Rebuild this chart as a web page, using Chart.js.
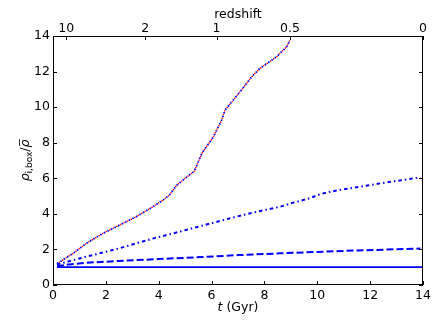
<!DOCTYPE html>
<html>
<head>
<meta charset="utf-8">
<script src="https://cdn.jsdelivr.net/npm/chart.js@4"></script>
<style>
body{margin:0;background:#fff;}
canvas{display:block;}
</style>
</head>
<body>
<canvas id="grafico" width="436" height="329"></canvas>
<script>

// t (Gyr) y densidad relativa de cada curva
const tSolida=[0.15,14];
const vSolida=[1.0,1.0];

const tGuiones=[0.15,0.6,1.26,2.5,4.0,5.6,7.0,8.6,10.0,11.5,13.9];
const vGuiones=[1.05,1.15,1.25,1.35,1.46,1.57,1.68,1.78,1.86,1.94,2.05];

const tPuntoRaya=[0.15,1.2,2.5,3.8,4.8,5.5,6.7,7.5,8.6,9.0,9.7,10.1,10.5,11.5,12.4,13.9];
const vPuntoRaya=[1.15,1.57,2.06,2.62,3.0,3.28,3.75,4.05,4.4,4.59,4.87,5.1,5.25,5.5,5.72,6.05];

const tPuntos=[0.15,0.76,1.26,1.89,2.52,3.15,3.78,4.17,4.4,4.68,5.0,5.35,5.63,6.07,6.38,6.51,6.82,7.08,7.52,7.83,8.46,8.84,8.97];
const vPuntos=[1.2,1.78,2.34,2.9,3.37,3.84,4.4,4.78,5.05,5.6,6.0,6.4,7.4,8.34,9.27,9.84,10.4,10.87,11.71,12.18,12.83,13.4,13.77];

// eje superior: redshift
const zEtiquetas=["10","2","1","0.5","0"];
const zTiempos=[0.5,3.49,6.19,8.97,14];

const xTicks=[0,2,4,6,8,10,12,14];
const yTicks=[0,2,4,6,8,10,12,14];

const fuente="DejaVu Sans";
const azul="#0000ff";
const rojo="#ff0000";

function puntos(t,v){
    return t.map((x,i)=>({x:x,y:v[i]}));
}

const marco={
    id:"marco",
    afterDraw(chart){
        const c=chart.ctx;
        const a=chart.chartArea;
        const sx=chart.scales.x;
        const sy=chart.scales.y;
        c.save();
        c.strokeStyle="#000";
        c.lineWidth=1;
        c.strokeRect(a.left+0.5,a.top+0.5,a.right-a.left-1,a.bottom-a.top-1);

        // ticks hacia dentro
        c.beginPath();
        xTicks.forEach(v=>{
            const px=Math.round(sx.getPixelForValue(v))+0.5;
            c.moveTo(px,a.bottom);
            c.lineTo(px,a.bottom-4);
        });
        zTiempos.forEach(v=>{
            const px=Math.round(chart.scales.x2.getPixelForValue(v))+0.5;
            c.moveTo(px,a.top);
            c.lineTo(px,a.top+4);
        });
        yTicks.forEach(v=>{
            const py=Math.round(sy.getPixelForValue(v))+0.5;
            c.moveTo(a.left,py);
            c.lineTo(a.left+4,py);
            c.moveTo(a.right,py);
            c.lineTo(a.right-4,py);
        });
        c.stroke();

        c.fillStyle="#000";
        c.textBaseline="middle";

        // titulo superior
        c.textAlign="center";
        c.font="12.5px '"+fuente+"'";
        const cx=(a.left+a.right)/2;
        c.fillText("redshift",cx,15);

        // titulo eje x
        c.textAlign="left";
        const parte1="t";
        const parte2=" (Gyr)";
        c.font="italic 12.5px '"+fuente+"'";
        const w1=c.measureText(parte1).width;
        c.font="12.5px '"+fuente+"'";
        const w2=c.measureText(parte2).width;
        let x0=cx-(w1+w2)/2;
        c.font="italic 12.5px '"+fuente+"'";
        c.fillText(parte1,x0,308);
        c.font="12.5px '"+fuente+"'";
        c.fillText(parte2,x0+w1,308);

        // titulo eje y
        c.translate(25,(a.top+a.bottom)/2);
        c.rotate(-Math.PI/2);
        c.textBaseline="alphabetic";
        c.font="italic 12.5px '"+fuente+"'";
        const rho=c.measureText("ρ").width;
        c.font="9px '"+fuente+"'";
        const sub=c.measureText("i,box").width;
        c.font="12.5px '"+fuente+"'";
        const bar=c.measureText("/").width;
        const total=rho+sub+bar+rho;
        let px=-total/2;
        const base=4;
        c.font="italic 12.5px '"+fuente+"'";
        c.fillText("ρ",px,base);
        px+=rho;
        c.font="9px '"+fuente+"'";
        c.fillText("i,box",px,base+3);
        px+=sub;
        c.font="12.5px '"+fuente+"'";
        c.fillText("/",px,base);
        px+=bar;
        c.font="italic 12.5px '"+fuente+"'";
        c.fillText("ρ",px,base);
        c.beginPath();
        c.lineWidth=0.8;
        c.moveTo(px+1.5,base-9.5);
        c.lineTo(px+rho+0.5,base-9.5);
        c.stroke();
        c.restore();
    }
};

const ctx=document.getElementById("grafico");

new Chart(ctx,{

    type:"line",

    data:{

        datasets:[

            {
                data:puntos(tSolida,vSolida),
                borderColor:azul,
                borderWidth:1.8,
                order:0
            },
            {
                data:puntos(tGuiones,vGuiones),
                borderColor:azul,
                borderWidth:2,
                borderDash:[7,3],
                order:0
            },
            {
                data:puntos(tPuntoRaya,vPuntoRaya),
                borderColor:azul,
                borderWidth:2,
                borderDash:[3.5,3,1.5,3],
                order:0
            },
            {
                data:puntos(tPuntos,vPuntos),
                borderColor:azul,
                borderWidth:1.8,
                borderDash:[1.5,2.5],
                order:0
            },
            {
                data:puntos(tPuntos,vPuntos),
                borderColor:rojo,
                borderWidth:1.3,
                borderDash:[1.5,2.5],
                borderDashOffset:2,
                order:1
            }

        ]

    },

    options:{

        responsive:false,
        animation:false,
        events:[],
        layout:{padding:{left:0,right:13,top:0,bottom:0}},
        elements:{
            point:{radius:0},
            line:{tension:0,fill:false}
        },
        plugins:{
            legend:{display:false},
            tooltip:{enabled:false}
        },

        scales:{

            x:{
                type:"linear",
                position:"bottom",
                min:0,
                max:14,
                afterBuildTicks:s=>{s.ticks=xTicks.map(v=>({value:v}));},
                afterFit:s=>{s.height=44;},
                grid:{display:false,drawTicks:false},
                border:{display:false},
                ticks:{
                    color:"#000",
                    padding:3,
                    maxRotation:0,
                    autoSkip:false,
                    font:{family:fuente,size:12.5}
                }
            },

            x2:{
                type:"linear",
                position:"top",
                min:0,
                max:14,
                afterBuildTicks:s=>{s.ticks=zTiempos.map(v=>({value:v}));},
                afterFit:s=>{s.height=36;},
                grid:{display:false,drawTicks:false},
                border:{display:false},
                ticks:{
                    color:"#000",
                    padding:0,
                    maxRotation:0,
                    autoSkip:false,
                    font:{family:fuente,size:12.5},
                    callback:(v,i)=>zEtiquetas[i]
                }
            },

            y:{
                type:"linear",
                min:0,
                max:14,
                afterBuildTicks:s=>{s.ticks=yTicks.map(v=>({value:v}));},
                afterFit:s=>{s.width=53;},
                grid:{display:false,drawTicks:false},
                border:{display:false},
                ticks:{
                    color:"#000",
                    padding:3,
                    autoSkip:false,
                    font:{family:fuente,size:12.5}
                }
            }

        }

    },

    plugins:[marco]

});

</script>
</body>
</html>
